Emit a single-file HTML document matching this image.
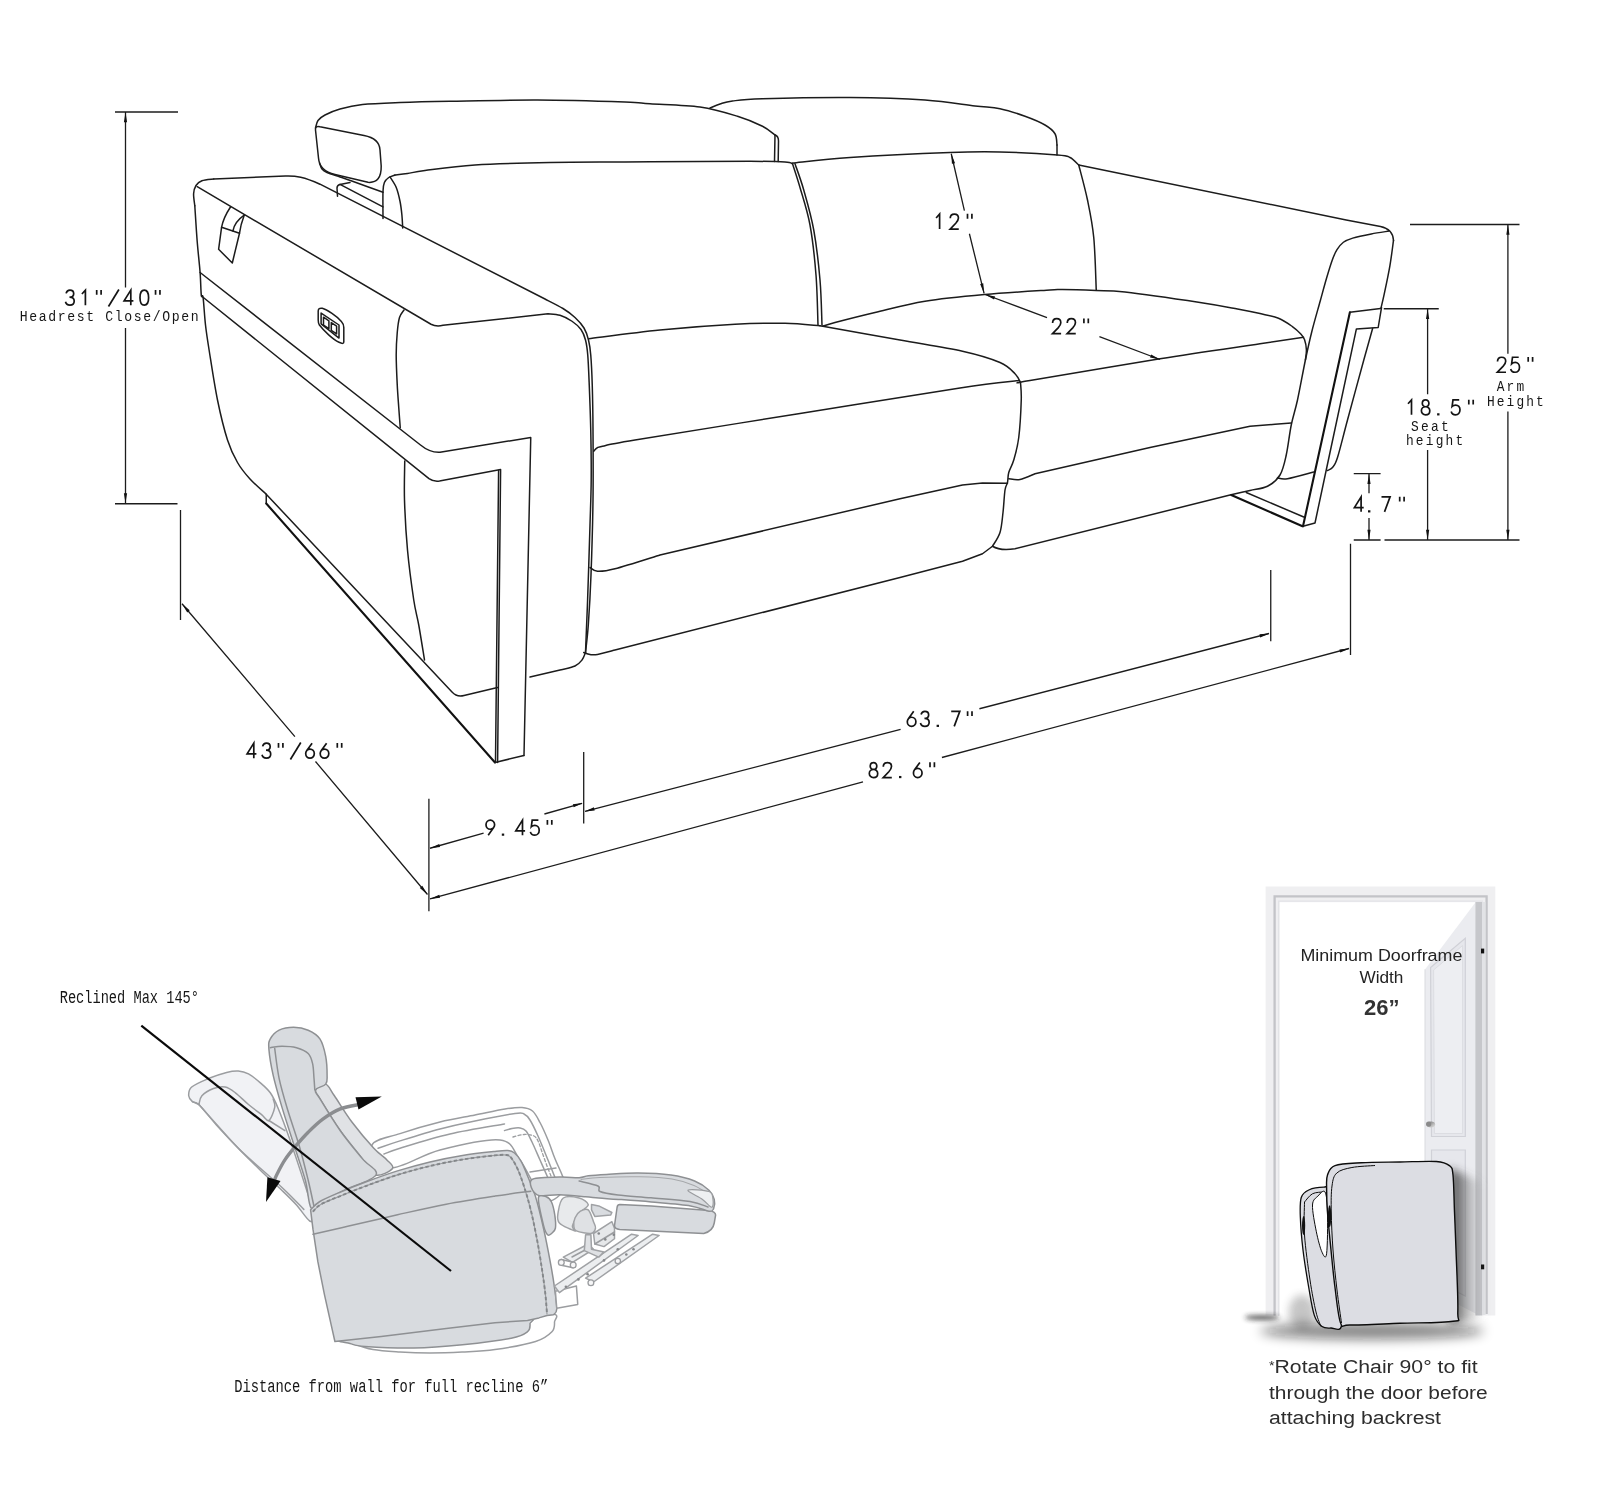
<!DOCTYPE html>
<html><head><meta charset="utf-8"><title>Sofa dimensions</title>
<style>
html,body{margin:0;padding:0;background:#fff;}
body{width:1600px;height:1510px;overflow:hidden;font-family:"Liberation Sans",sans-serif;}
svg{display:block;}
.l{fill:none;stroke:#1c1c1c;stroke-width:1.5;stroke-linecap:round;stroke-linejoin:round;}
.b{fill:none;stroke:#111;stroke-width:2.1;stroke-linecap:round;stroke-linejoin:round;}
.d{fill:none;stroke:#1c1c1c;stroke-width:1.3;stroke-linecap:butt;}
.a{fill:#111;stroke:none;}
.k path{fill:none;stroke:#141414;stroke-width:1.7;stroke-linecap:butt;stroke-linejoin:miter;}
.k path.kd{fill:#141414;stroke:none;}
.m{font-family:"Liberation Mono",monospace;font-size:13.4px;fill:#161616;text-anchor:middle;}
.g{fill:#d8dbdf;stroke:#8e9093;stroke-width:1.5;stroke-linejoin:round;stroke-linecap:round;}
.go{fill:none;stroke:#8e9093;stroke-width:1.5;stroke-linejoin:round;stroke-linecap:round;}
.w{fill:#fff;stroke:#9b9da0;stroke-width:1.5;stroke-linejoin:round;stroke-linecap:round;}
.wo{fill:none;stroke:#9b9da0;stroke-width:1.5;stroke-linejoin:round;stroke-linecap:round;}
</style></head><body>
<svg width="1600" height="1510" viewBox="0 0 1600 1510">
<rect x="0" y="0" width="1600" height="1510" fill="#fff"/>
<g id="sofa">
<path class="l" d="M213.8,178.9 C211.82,179.2 204.87,179.6 201.9,180.7 C198.93,181.8 197.38,183.32 196,185.5 C194.62,187.68 193.8,190.42 193.6,193.8 C193.4,197.18 194.6,203.8 194.8,205.8"/>
<path class="l" d="M194.8,205.8 C195.2,211.75 196.32,230.38 197.2,241.5 C198.08,252.62 199.42,263.55 200.1,272.5 C200.78,281.45 200.8,291.02 201.3,295.2 C201.8,299.38 202.4,292.63 203.1,297.6 C203.8,302.57 204.5,316.27 205.5,325 C206.5,333.73 207.1,337.5 209.1,350 C211.1,362.5 214.43,385 217.5,400 C220.57,415 224.17,429.58 227.5,440 C230.83,450.42 233.75,456 237.5,462.5 C241.25,469 245.25,473.75 250,479 C254.75,484.25 263.33,491.5 266,494"/>
<path class="l" d="M266,494 L452,692 Q457,697.5 464,695.5 L497.5,687.5"/>
<path class="l" d="M213.8,178.9 L285.4,176 C296,175.6 304,177 320,184.2 L545,299  C548,300.58 558,305.42 563,308.5 C568,311.58 571.5,314.25 575,317.5 C578.5,320.75 581.75,324.25 584,328 C586.25,331.75 587.38,335.5 588.5,340 C589.62,344.5 590.12,347.5 590.75,355 C591.38,362.5 591.88,372.5 592.25,385 C592.62,397.5 592.88,410.83 593,430 C593.12,449.17 593.33,475.83 593,500 C592.67,524.17 591.78,554.17 591,575 C590.22,595.83 589.22,612.08 588.3,625 C587.38,637.92 585.97,647.92 585.5,652.5"/>
<path class="l" d="M197.2,186.7 L431,324.25 Q436.25,327 443,325.3 L548,313.75  C550,314 556,314 560,315.25 C564,316.5 568.5,318.88 572,321.25 C575.5,323.62 578.75,326.38 581,329.5 C583.25,332.62 584.38,335.75 585.5,340 C586.62,344.25 587.12,347.5 587.75,355 C588.38,362.5 588.75,372.5 589.25,385 C589.75,397.5 590.42,414.17 590.75,430 C591.08,445.83 591.33,464.17 591.2,480 C591.08,495.83 590.6,505 590,525 C589.4,545 588.35,578.75 587.6,600 C586.85,621.25 585.85,643.75 585.5,652.5"/>
<path class="l" d="M585.5,652.5 C584.92,653.75 583.75,657.75 582,660 C580.25,662.25 578.67,664.33 575,666 C571.33,667.67 567.5,668.17 560,670 C552.5,671.83 535,675.83 530,677"/>
<path class="l" d="M404,310 C403.25,311.25 400.62,313.75 399.5,317.5 C398.38,321.25 397.8,326.25 397.25,332.5 C396.7,338.75 396.2,346.25 396.2,355 C396.2,363.75 396.82,376.25 397.25,385 C397.68,393.75 398.25,400.38 398.75,407.5 C399.25,414.62 400,424.38 400.25,427.75"/>
<path class="l" d="M404.75,461 C404.71,467.5 404.04,485.17 404.5,500 C404.96,514.83 405.96,533.33 407.5,550 C409.04,566.67 411.88,587.5 413.75,600 C415.62,612.5 416.96,615 418.75,625 C420.54,635 423.54,654.17 424.5,660"/>
<path class="l" d="M200.1,272.5 L420.5,445 Q430,452.8 440,452.2 L530.75,437.5 L524,755.5"/>
<path class="l" d="M201.5,296 L429,478.7 Q433.5,482 439.5,481.1 L500.6,469.6 L497.6,762.5"/>
<path class="l" d="M498.6,470.6 L495.5,762"/>
<path class="l" d="M266.25,495 L266.25,503.5"/>
<path class="b" d="M266.25,503.5 L495,762.5"/>
<path class="l" d="M495,762.5 L523.9,755.5"/>
<path class="l" d="M230.5,207 C226.5,213 223,220 221.6,227.2 L218.6,249.3 L232.3,263 L239.5,233.2 C240.3,227 242,221 244.2,215.2"/>
<path class="l" d="M221.6,227.2 L239.5,233.2"/>
<path class="l" d="M244.2,215.2 C238,219.5 234,225 232.9,231"/>
<path class="l" d="M318.2,311 Q318.2,307.6 322.3,308.3 C327,309.5 337,316.5 341.4,321.4 Q343.8,324 343.8,327.5 L343.8,342 Q343.8,344.6 339,342.3 C333,339.5 324,331 319.4,325 Q318.2,323 318.2,320 Z"/>
<path class="l" d="M321.1,313.1 L339,325 L339,338.1 L321.1,323.8 Z"/>
<path class="l" d="M323.5,317.2 L328.9,320.8 L328.9,328.6 L323.5,325 Z"/>
<path class="l" d="M331.3,322.6 L336.6,326.2 L336.6,333.9 L331.3,330.3 Z"/>
<path class="l" d="M315.5,130 Q315,125.5 320,126.8 L364,135.5 Q379.5,138.5 380,150 L381.2,166 Q381.5,183.5 368,182.3 L335,174.5 Q319.5,171 318.5,158 Z"/>
<path class="l" d="M315.5,128 C315.92,126.75 316.42,122.67 318,120.5 C319.58,118.33 321.33,116.92 325,115 C328.67,113.08 333.75,110.75 340,109 C346.25,107.25 352.5,105.58 362.5,104.5 C372.5,103.42 385.42,103.04 400,102.5 C414.58,101.96 427.08,101.67 450,101.25 C472.92,100.83 508.33,99.88 537.5,100 C566.67,100.12 606.25,101.38 625,102 C643.75,102.62 637.5,102.92 650,103.75 C662.5,104.58 685.42,104.92 700,107 C714.58,109.08 727.08,113.04 737.5,116.25 C747.92,119.46 756.25,123.12 762.5,126.25 C768.75,129.38 772.92,133.54 775,135"/>
<path class="l" d="M775,135 L774.5,161.5"/>
<path class="l" d="M775,135 Q778.5,136 778.5,141 L778.2,161.5"/>
<path class="l" d="M319.5,163 C319.92,164 320.75,167.42 322,169 C323.25,170.58 324,171.17 327,172.5 C330,173.83 335.75,175.54 340,177 C344.25,178.46 345.33,178.71 352.5,181.25 C359.67,183.79 377.92,190.42 383,192.25"/>
<path class="l" d="M337.5,196.3 L337,188 Q337,185 340,184.4 L350,182.6"/>
<path class="l" d="M340,184.4 L383,206.9"/>
<path class="l" d="M383,218.5 C383,213.96 382.77,197.25 383,191.25 C383.23,185.25 383.44,184.79 384.4,182.5 C385.36,180.21 386.98,178.75 388.75,177.5 C390.52,176.25 393.96,175.42 395,175"/>
<path class="l" d="M395,175 C397.08,174.75 402.5,174.25 407.5,173.5 C412.5,172.75 413.75,171.92 425,170.5 C436.25,169.08 454.17,166.33 475,165 C495.83,163.67 525,163 550,162.5 C575,162 600,162.17 625,162 C650,161.83 679.17,161.62 700,161.5 C720.83,161.38 735.83,161.17 750,161.25 C764.17,161.33 777.92,161.58 785,162 C792.08,162.42 791.25,163.46 792.5,163.75"/>
<path class="l" d="M792.5,163.75 C793.75,167.71 797.08,177.29 800,187.5 C802.92,197.71 807.33,210.42 810,225 C812.67,239.58 814.67,258.33 816,275 C817.33,291.67 817.67,316.67 818,325"/>
<path class="l" d="M795,163.75 C796.46,168.12 800.62,178.96 803.75,190 C806.88,201.04 811.04,215 813.75,230 C816.46,245 818.62,264.17 820,280 C821.38,295.83 821.67,317.5 822,325"/>
<path class="l" d="M390,176.9 C391.04,178.67 394.58,183.44 396.25,187.5 C397.92,191.56 399.06,196.67 400,201.25 C400.94,205.83 401.45,210.54 401.9,215 C402.35,219.46 402.57,225.83 402.7,228"/>
<path class="l" d="M792.5,163 C802.08,162.08 823.75,159.25 850,157.5 C876.25,155.75 925,153.42 950,152.5 C975,151.58 982.08,151.58 1000,152 C1017.92,152.42 1045.83,154.08 1057.5,155 C1069.17,155.92 1066.46,155.83 1070,157.5 C1073.54,159.17 1077.29,163.75 1078.75,165"/>
<path class="l" d="M1078.75,165 C1080.21,170.83 1085,187.92 1087.5,200 C1090,212.08 1092.29,222.5 1093.75,237.5 C1095.21,252.5 1095.83,281.25 1096.25,290"/>
<path class="l" d="M710,108 C711.67,107.33 716.25,105.17 720,104 C723.75,102.83 725.42,101.88 732.5,101 C739.58,100.12 742.92,99.33 762.5,98.75 C782.08,98.17 822.92,97.29 850,97.5 C877.08,97.71 904.17,98.58 925,100 C945.83,101.42 962.5,104.54 975,106 C987.5,107.46 991.67,107.04 1000,108.75 C1008.33,110.46 1017.5,113.54 1025,116.25 C1032.5,118.96 1040,122.08 1045,125 C1050,127.92 1053,130.42 1055,133.75 C1057,137.08 1056.67,143.12 1057,145"/>
<path class="l" d="M1057,145 L1057,155"/>
<path class="l" d="M588.75,338.75 C600.62,337.29 635.62,332.42 660,330 C684.38,327.58 714.17,325.38 735,324.25 C755.83,323.12 770.83,323 785,323.25 C799.17,323.5 814.17,325.33 820,325.75"/>
<path class="l" d="M820,325.75 C833.33,328.12 876.25,335.75 900,340 C923.75,344.25 945.83,347.5 962.5,351.25 C979.17,355 991.25,358.75 1000,362.5 C1008.75,366.25 1011.58,370.42 1015,373.75 C1018.42,377.08 1019.58,381.04 1020.5,382.5"/>
<path class="l" d="M593.75,451.25 C594.29,450.71 595.54,448.83 597,448 C598.46,447.17 596.17,447.58 602.5,446.25 C608.83,444.92 602.08,445.46 635,440 C667.92,434.54 745.83,422.17 800,413.5 C854.17,404.83 923.54,393.5 960,388 C996.46,382.5 1008.96,381.75 1018.75,380.5"/>
<path class="l" d="M1020.5,382.5 C1020.62,385.42 1021.54,390.83 1021.25,400 C1020.96,409.17 1020,427.5 1018.75,437.5 C1017.5,447.5 1015.42,454.17 1013.75,460 C1012.08,465.83 1009.79,468.75 1008.75,472.5 C1007.71,476.25 1008.12,479.58 1007.5,482.5 C1006.88,485.42 1005.75,485 1005,490 C1004.25,495 1003.83,505.42 1003,512.5 C1002.17,519.58 1001.75,526.88 1000,532.5 C998.25,538.12 993.75,543.96 992.5,546.25"/>
<path class="l" d="M590,567.5 C591.25,568.12 593.33,571.04 597.5,571.25 C601.67,571.46 604.58,571.46 615,568.75 C625.42,566.04 652.5,557.29 660,555 L900,498.75 L962.5,485 L982.5,483 L1007.5,483.25"/>
<path class="l" d="M583.75,652.5 C584.79,652.83 587.71,654.17 590,654.5 C592.29,654.83 593.33,655.25 597.5,654.5 C601.67,653.75 612.08,650.75 615,650 L900,577.5 L962.5,561.25 L982.5,553.75 L992.5,546.25"/>
<path class="l" d="M822.5,326.25 C824.58,325.62 826.25,324.79 835,322.5 C843.75,320.21 860,316.04 875,312.5 C890,308.96 906.67,304.25 925,301.25 C943.33,298.25 964.17,296.38 985,294.5 C1005.83,292.62 1037.08,290.83 1050,290 C1062.92,289.17 1054.83,289.42 1062.5,289.5 C1070.17,289.58 1085.58,290.08 1096,290.5 C1106.42,290.92 1107.67,290 1125,292 C1142.33,294 1181.25,299.67 1200,302.5 C1218.75,305.33 1227.5,307.15 1237.5,309 C1247.5,310.85 1253.17,312.05 1260,313.6 C1266.83,315.15 1273.1,316.13 1278.5,318.3 C1283.9,320.47 1288.68,323.98 1292.4,326.6 C1296.12,329.22 1298.78,331.83 1300.8,334 C1302.82,336.17 1303.57,336.97 1304.5,339.6 C1305.43,342.23 1306.25,346.4 1306.4,349.8 C1306.55,353.2 1305.57,358.3 1305.4,360"/>
<path class="l" d="M1020.5,382.5 C1022.08,382.17 1006.75,384.46 1030,380.5 C1053.25,376.54 1121.67,364.87 1160,358.75 C1198.33,352.63 1236.07,347.38 1260,343.8 C1283.93,340.23 1296.33,338.38 1303.6,337.3"/>
<path class="l" d="M1388.9,231.1 C1385.97,231.57 1377.33,232.73 1371.3,233.9 C1365.27,235.07 1357.35,236.71 1352.7,238.1 C1348.05,239.49 1346.02,240.32 1343.4,242.25 C1340.78,244.18 1338.85,246.76 1337,249.7 C1335.15,252.64 1334.01,255.27 1332.3,259.9 C1330.59,264.53 1328.75,270.7 1326.75,277.5 C1324.75,284.3 1322.77,291.74 1320.3,300.7 C1317.83,309.66 1314.38,321.37 1311.9,331.25 C1309.42,341.13 1307.8,348.54 1305.4,360 C1303,371.46 1299.86,389.17 1297.5,400 C1295.14,410.83 1293.12,415.83 1291.25,425 C1289.38,434.17 1288.12,446.67 1286.25,455 C1284.38,463.33 1283.12,469.79 1280,475 C1276.88,480.21 1272.5,483.67 1267.5,486.25 C1262.5,488.83 1256.25,489.04 1250,490.5 C1243.75,491.96 1233.33,494.25 1230,495 L1015,548.75 Q1000,551 992.5,546.25"/>
<path class="l" d="M1008.75,478.75 C1010.62,478.88 1015.62,480.33 1020,479.5 C1024.38,478.67 1032.5,474.71 1035,473.75 L1150,447.5 L1250,426.25 L1275,424.25 L1291.25,423"/>
<path class="l" d="M1078.75,165 L1346.2,220 L1380.5,226.5 C1388,228 1393,232 1393.5,240.4"/>
<path class="l" d="M1393.5,240.4 C1392.88,244.73 1391.35,257.43 1389.8,266.4 C1388.25,275.37 1385.67,287.27 1384.2,294.2 C1382.73,301.13 1381.53,305.7 1381,308"/>
<path class="l" d="M1372.6,328.5 C1371.13,333.75 1367.98,344.75 1363.8,360 C1359.62,375.25 1351.88,403.75 1347.5,420 C1343.12,436.25 1340,449.58 1337.5,457.5 C1335,465.42 1334.17,465.33 1332.5,467.5 C1330.83,469.67 1328.33,470 1327.5,470.5"/>
<path class="b" d="M1349.9,312.25 L1303,526.25"/>
<path class="l" d="M1349.9,312.25 L1380.5,308.5"/>
<path class="l" d="M1381.5,307.6 L1378.2,327.5 L1356.4,328.9 L1326.25,470 L1315,523 L1303,526.25"/>
<path class="l" d="M1277.5,478 C1279.17,478.12 1281.46,479.75 1287.5,478.75 C1293.54,477.75 1309.38,473.12 1313.75,472"/>
<path class="b" d="M1231.25,495 L1302.5,526.25"/>
<path class="l" d="M1246.25,492.5 L1303.75,517"/>
</g>
<g id="dims">
<path class="d" d="M115,112 L178,112"/>
<path class="d" d="M125.5,112 L125.5,287.5 M125.5,328 L125.5,503.5"/>
<path class="d" d="M115,503.75 L177.5,503.75"/>
<path class="a" d="M125.5,112.3 L127.1,122.3 L123.9,122.3 Z"/>
<path class="a" d="M125.5,503.3 L123.9,493.3 L127.1,493.3 Z"/>
<path class="d" d="M180.5,510 L180.5,620"/>
<path class="d" d="M182,603.75 L294.9,736.6 M315.5,761.5 L427.5,894.5"/>
<path class="a" d="M182,603.75 L189.69,610.33 L187.26,612.41 Z"/>
<path class="a" d="M427.5,894.5 L419.83,887.88 L422.28,885.82 Z"/>
<path class="d" d="M428.9,798.75 L428.9,911.25"/>
<path class="d" d="M583.7,752 L583.7,823.6"/>
<path class="d" d="M430,848.25 L483.6,833.1 M544.4,814 L582,803.4"/>
<path class="a" d="M430,848.25 L439.19,843.99 L440.06,847.07 Z"/>
<path class="a" d="M582.9,803.1 L573.71,807.36 L572.84,804.28 Z"/>
<path class="d" d="M585,811.3 L900.6,729.4 M979.4,708.75 L1269,633.5"/>
<path class="a" d="M584.6,811.4 L593.88,807.34 L594.68,810.44 Z"/>
<path class="a" d="M1269.5,633.4 L1260.22,637.46 L1259.42,634.37 Z"/>
<path class="d" d="M430,898.9 L863,781.9 M941.9,757.5 L1349,648.5"/>
<path class="a" d="M430,898.9 L439.24,894.75 L440.07,897.84 Z"/>
<path class="a" d="M1349.5,648.4 L1340.25,652.53 L1339.43,649.44 Z"/>
<path class="d" d="M1270.75,570 L1270.75,641.25"/>
<path class="d" d="M1350.5,543.75 L1350.5,655"/>
<path class="d" d="M1410,224.5 L1519.5,224.5"/>
<path class="d" d="M1507.9,224.5 L1507.9,353.75 M1507.9,411.5 L1507.9,540"/>
<path class="d" d="M1384.5,540 L1519.5,540"/>
<path class="a" d="M1507.9,224.8 L1509.5,234.8 L1506.3,234.8 Z"/>
<path class="a" d="M1507.9,539.7 L1506.3,529.7 L1509.5,529.7 Z"/>
<path class="d" d="M1383.75,308.75 L1438.75,308.75"/>
<path class="d" d="M1427.6,308.75 L1427.6,394.3 M1427.6,450 L1427.6,540"/>
<path class="a" d="M1427.6,309 L1429.2,319 L1426,319 Z"/>
<path class="a" d="M1427.6,539.7 L1426,529.7 L1429.2,529.7 Z"/>
<path class="d" d="M1353.75,473.7 L1380.6,473.7 M1353.75,540 L1380.6,540"/>
<path class="d" d="M1369,473.7 L1369,493.3 M1369,518 L1369,540"/>
<path class="a" d="M1369,474 L1370.6,484 L1367.4,484 Z"/>
<path class="a" d="M1369,539.7 L1367.4,529.7 L1370.6,529.7 Z"/>
<path class="d" d="M951.25,153.75 L964.4,210.7 M969.4,233.75 L984.1,293.4"/>
<path class="a" d="M951.25,153.75 L955.06,163.13 L951.94,163.85 Z"/>
<path class="a" d="M984.1,293.4 L980.15,284.07 L983.26,283.31 Z"/>
<path class="d" d="M985.2,294.5 L1047,317.6 M1099.4,336.7 L1160,359.5"/>
<path class="a" d="M985.2,294.5 L995.13,296.5 L994.01,299.5 Z"/>
<path class="a" d="M1160,359.5 L1150.08,357.48 L1151.2,354.48 Z"/>
<g class="k"><title>31&quot;/40&quot;</title><path transform="translate(65.3,290.15)" d="M0.8,3.2 C1.3,1.2 2.7,0 4.6,0 C6.9,0 8.4,1.5 8.4,3.6 C8.4,5.8 6.8,7 4.2,7 C7.2,7 8.9,8.5 8.9,10.9 C8.9,13.4 7.1,15 4.6,15 C2.3,15 0.7,13.7 0.2,11.6"/><path transform="translate(80.8,290.15)" d="M1.1,3.9 L4.6,0 L4.6,15"/><path transform="translate(94.4,290.15)" d="M2.3,-0.2 L2.3,4.6 M6.7,-0.2 L6.7,4.6"/><path transform="translate(109.2,290.15)" d="M9.7,-0.6 L-0.7,16.3"/><path transform="translate(124.1,290.15)" d="M6.7,15 L6.7,0 L0,10.7 L9.3,10.7"/><path transform="translate(139.8,290.15)" d="M4.5,0 C1.6,0 0.2,3.2 0.2,7.5 C0.2,11.8 1.6,15 4.5,15 C7.4,15 8.8,11.8 8.8,7.5 C8.8,3.2 7.4,0 4.5,0Z"/><path transform="translate(153.25,290.15)" d="M2.3,-0.2 L2.3,4.6 M6.7,-0.2 L6.7,4.6"/></g>
<g class="k"><title>43&quot;/66&quot;</title><path transform="translate(247.1,743.15)" d="M6.7,15 L6.7,0 L0,10.7 L9.3,10.7"/><path transform="translate(261.8,743.15)" d="M0.8,3.2 C1.3,1.2 2.7,0 4.6,0 C6.9,0 8.4,1.5 8.4,3.6 C8.4,5.8 6.8,7 4.2,7 C7.2,7 8.9,8.5 8.9,10.9 C8.9,13.4 7.1,15 4.6,15 C2.3,15 0.7,13.7 0.2,11.6"/><path transform="translate(276.2,743.15)" d="M2.3,-0.2 L2.3,4.6 M6.7,-0.2 L6.7,4.6"/><path transform="translate(291.1,743.15)" d="M9.7,-0.6 L-0.7,16.3"/><path transform="translate(305.5,743.15)" d="M6.6,0 L1.3,7.3 C0.6,8.3 0.2,9.3 0.2,10.4 C0.2,13 2,15 4.5,15 C7,15 8.8,13 8.8,10.4 C8.8,7.8 7,5.9 4.5,5.9 C3.4,5.9 2.5,6.2 1.7,6.9"/><path transform="translate(320,743.15)" d="M6.6,0 L1.3,7.3 C0.6,8.3 0.2,9.3 0.2,10.4 C0.2,13 2,15 4.5,15 C7,15 8.8,13 8.8,10.4 C8.8,7.8 7,5.9 4.5,5.9 C3.4,5.9 2.5,6.2 1.7,6.9"/><path transform="translate(335,743.15)" d="M2.3,-0.2 L2.3,4.6 M6.7,-0.2 L6.7,4.6"/></g>
<g class="k"><title>9.45&quot;</title><path transform="translate(485.8,820.15)" d="M2.4,15 L7.7,7.7 C8.4,6.7 8.8,5.7 8.8,4.6 C8.8,2 7,0 4.5,0 C2,0 0.2,2 0.2,4.6 C0.2,7.2 2,9.1 4.5,9.1 C5.6,9.1 6.5,8.8 7.3,8.1"/><path class="kd" transform="translate(498.5,820.15)" d="M3.3,13.4 L5.7,13.4 L5.7,15.6 L3.3,15.6 Z"/><path transform="translate(515.8,820.15)" d="M6.7,15 L6.7,0 L0,10.7 L9.3,10.7"/><path transform="translate(530.2,820.15)" d="M8.2,0 L2,0 L1.1,6.6 C2,5.7 3.3,5.2 4.7,5.2 C7.2,5.2 9,7.2 9,10 C9,12.9 7.2,15 4.6,15 C2.3,15 0.7,13.7 0.2,11.7"/><path transform="translate(545.1,820.15)" d="M2.3,-0.2 L2.3,4.6 M6.7,-0.2 L6.7,4.6"/></g>
<g class="k"><title>63.7&quot;</title><path transform="translate(907.1,711.35)" d="M6.6,0 L1.3,7.3 C0.6,8.3 0.2,9.3 0.2,10.4 C0.2,13 2,15 4.5,15 C7,15 8.8,13 8.8,10.4 C8.8,7.8 7,5.9 4.5,5.9 C3.4,5.9 2.5,6.2 1.7,6.9"/><path transform="translate(920.25,711.35)" d="M0.8,3.2 C1.3,1.2 2.7,0 4.6,0 C6.9,0 8.4,1.5 8.4,3.6 C8.4,5.8 6.8,7 4.2,7 C7.2,7 8.9,8.5 8.9,10.9 C8.9,13.4 7.1,15 4.6,15 C2.3,15 0.7,13.7 0.2,11.6"/><path class="kd" transform="translate(933.3,711.35)" d="M3.3,13.4 L5.7,13.4 L5.7,15.6 L3.3,15.6 Z"/><path transform="translate(950.9,711.35)" d="M0.3,0 L8.9,0 L3.3,15"/><path transform="translate(965.3,711.35)" d="M2.3,-0.2 L2.3,4.6 M6.7,-0.2 L6.7,4.6"/></g>
<g class="k"><title>82.6&quot;</title><path transform="translate(869,762.55)" d="M4.5,6.9 C2.5,6.9 1.2,5.4 1.2,3.5 C1.2,1.5 2.5,0 4.5,0 C6.5,0 7.8,1.5 7.8,3.5 C7.8,5.4 6.5,6.9 4.5,6.9 C6.9,6.9 8.7,8.6 8.7,10.9 C8.7,13.3 6.9,15 4.5,15 C2.1,15 0.3,13.3 0.3,10.9 C0.3,8.6 2.1,6.9 4.5,6.9Z"/><path transform="translate(882.8,762.55)" d="M0.5,4.3 C0.5,1.6 2.2,0 4.6,0 C7,0 8.7,1.6 8.7,4 C8.7,6 7.6,7.4 6,9.2 L0.4,15 L9,15"/><path class="kd" transform="translate(895.7,762.55)" d="M3.3,13.4 L5.7,13.4 L5.7,15.6 L3.3,15.6 Z"/><path transform="translate(913.25,762.55)" d="M6.6,0 L1.3,7.3 C0.6,8.3 0.2,9.3 0.2,10.4 C0.2,13 2,15 4.5,15 C7,15 8.8,13 8.8,10.4 C8.8,7.8 7,5.9 4.5,5.9 C3.4,5.9 2.5,6.2 1.7,6.9"/><path transform="translate(927.7,762.55)" d="M2.3,-0.2 L2.3,4.6 M6.7,-0.2 L6.7,4.6"/></g>
<g class="k"><title>12&quot;</title><path transform="translate(935,214.05)" d="M1.1,3.9 L4.6,0 L4.6,15"/><path transform="translate(949.75,214.05)" d="M0.5,4.3 C0.5,1.6 2.2,0 4.6,0 C7,0 8.7,1.6 8.7,4 C8.7,6 7.6,7.4 6,9.2 L0.4,15 L9,15"/><path transform="translate(965.2,214.05)" d="M2.3,-0.2 L2.3,4.6 M6.7,-0.2 L6.7,4.6"/></g>
<g class="k"><title>22&quot;</title><path transform="translate(1052.1,318.65)" d="M0.5,4.3 C0.5,1.6 2.2,0 4.6,0 C7,0 8.7,1.6 8.7,4 C8.7,6 7.6,7.4 6,9.2 L0.4,15 L9,15"/><path transform="translate(1066.75,318.65)" d="M0.5,4.3 C0.5,1.6 2.2,0 4.6,0 C7,0 8.7,1.6 8.7,4 C8.7,6 7.6,7.4 6,9.2 L0.4,15 L9,15"/><path transform="translate(1081.6,318.65)" d="M2.3,-0.2 L2.3,4.6 M6.7,-0.2 L6.7,4.6"/></g>
<g class="k"><title>25&quot;</title><path transform="translate(1497,357.25)" d="M0.5,4.3 C0.5,1.6 2.2,0 4.6,0 C7,0 8.7,1.6 8.7,4 C8.7,6 7.6,7.4 6,9.2 L0.4,15 L9,15"/><path transform="translate(1510.5,357.25)" d="M8.2,0 L2,0 L1.1,6.6 C2,5.7 3.3,5.2 4.7,5.2 C7.2,5.2 9,7.2 9,10 C9,12.9 7.2,15 4.6,15 C2.3,15 0.7,13.7 0.2,11.7"/><path transform="translate(1525.9,357.25)" d="M2.3,-0.2 L2.3,4.6 M6.7,-0.2 L6.7,4.6"/></g>
<g class="k"><title>18.5&quot;</title><path transform="translate(1406.9,399.85)" d="M1.1,3.9 L4.6,0 L4.6,15"/><path transform="translate(1421.1,399.85)" d="M4.5,6.9 C2.5,6.9 1.2,5.4 1.2,3.5 C1.2,1.5 2.5,0 4.5,0 C6.5,0 7.8,1.5 7.8,3.5 C7.8,5.4 6.5,6.9 4.5,6.9 C6.9,6.9 8.7,8.6 8.7,10.9 C8.7,13.3 6.9,15 4.5,15 C2.1,15 0.3,13.3 0.3,10.9 C0.3,8.6 2.1,6.9 4.5,6.9Z"/><path class="kd" transform="translate(1433.8,399.85)" d="M3.3,13.4 L5.7,13.4 L5.7,15.6 L3.3,15.6 Z"/><path transform="translate(1451,399.85)" d="M8.2,0 L2,0 L1.1,6.6 C2,5.7 3.3,5.2 4.7,5.2 C7.2,5.2 9,7.2 9,10 C9,12.9 7.2,15 4.6,15 C2.3,15 0.7,13.7 0.2,11.7"/><path transform="translate(1466.5,399.85)" d="M2.3,-0.2 L2.3,4.6 M6.7,-0.2 L6.7,4.6"/></g>
<g class="k"><title>4.7&quot;</title><path transform="translate(1354.4,496.85)" d="M6.7,15 L6.7,0 L0,10.7 L9.3,10.7"/><path class="kd" transform="translate(1364.7,496.85)" d="M3.3,13.4 L5.7,13.4 L5.7,15.6 L3.3,15.6 Z"/><path transform="translate(1381.2,496.85)" d="M0.3,0 L8.9,0 L3.3,15"/><path transform="translate(1397.4,496.85)" d="M2.3,-0.2 L2.3,4.6 M6.7,-0.2 L6.7,4.6"/></g>
<g opacity=".999">
<text class="m" style="font-size:15.3px" transform="translate(23.75,320.6) scale(0.86,1)" x="0 11.05 22.09 33.14 44.19 55.23 66.28 77.33 88.37 99.42 110.47 121.51 132.56 143.6 154.65 165.7 176.74 187.79 198.84" y="0">Headrest Close/Open</text>
<text class="m" style="font-size:14.6px" transform="translate(1500.5,390.9) scale(0.88,1)" x="0 11.25 22.5" y="0">Arm</text>
<text class="m" style="font-size:14.6px" transform="translate(1490.9,406) scale(0.88,1)" x="0 11.14 22.27 33.41 44.55 55.68" y="0">Height</text>
<text class="m" style="font-size:14.6px" transform="translate(1414.9,431.4) scale(0.88,1)" x="0 11.33 22.66 33.99" y="0">Seat</text>
<text class="m" style="font-size:14.6px" transform="translate(1409.8,445.2) scale(0.88,1)" x="0 11.25 22.5 33.75 45 56.25" y="0">height</text>
</g>
</g>
<g id="recliner">
<path class="w" d="M346,1339 C338,1341.17 347.48,1341.23 352,1343 C356.52,1344.77 365.1,1348.1 373.1,1349.6 C381.1,1351.1 390.52,1351.45 400,1352 C409.48,1352.55 419.67,1352.9 430,1352.9 C440.33,1352.9 451.17,1352.55 462,1352 C472.83,1351.45 482.73,1351.35 495,1349.6 C507.27,1347.85 526.12,1344.47 535.6,1341.5 C545.08,1338.53 548.75,1335 551.9,1331.75 C555.05,1328.5 554.48,1324.96 554.5,1322 C554.52,1319.04 561.08,1314.67 552,1314 C542.92,1313.33 525.33,1315.33 500,1318 C474.67,1320.67 425.67,1326.5 400,1330 C374.33,1333.5 354,1336.83 346,1339Z"/>
<path class="g" d="M338,1339 C333,1341.25 345.5,1342.27 350,1343.5 C354.5,1344.73 354.38,1345.65 365,1346.4 C375.62,1347.15 397.5,1348.28 413.75,1348 C430,1347.72 446.25,1346.38 462.5,1344.75 C478.75,1343.12 500.42,1340.42 511.25,1338.25 C522.08,1336.08 524.38,1334.19 527.5,1331.75 C530.62,1329.31 530.08,1325.89 530,1323.6 C529.92,1321.31 540.33,1317.93 527,1318 C513.67,1318.07 474.5,1322 450,1324 C425.5,1326 398.67,1327.5 380,1330 C361.33,1332.5 343,1336.75 338,1339Z"/>
<path class="w" d="M372,1145 C373.67,1139.27 388.67,1137.43 400,1133.6 C411.33,1129.77 427.5,1125.1 440,1122 C452.5,1118.9 464.17,1117.17 475,1115 C485.83,1112.83 497.17,1110.25 505,1109 C512.83,1107.75 517.42,1107.17 522,1107.5 C526.58,1107.83 529.5,1108.5 532.5,1111 C535.5,1113.5 537.42,1117.67 540,1122.5 C542.58,1127.33 545.5,1133.96 548,1140 C550.5,1146.04 552.58,1152.75 555,1158.75 C557.42,1164.75 560.67,1171.12 562.5,1176 C564.33,1180.88 568.92,1184 566,1188 C563.08,1192 552.67,1204.67 545,1200 C537.33,1195.33 527.5,1170 520,1160 C512.5,1150 513.33,1141.67 500,1140 C486.67,1138.33 458.33,1145.33 440,1150 C421.67,1154.67 401.33,1168.83 390,1168 C378.67,1167.17 370.33,1150.73 372,1145Z"/>
<path class="wo" d="M378.1,1148.2 C381.75,1146.98 389.68,1144.1 400,1140.9 C410.32,1137.7 427.5,1132.32 440,1129 C452.5,1125.68 462.5,1123.58 475,1121 C487.5,1118.42 506.83,1114.67 515,1113.5 C523.17,1112.33 521.5,1112.92 524,1114 C526.5,1115.08 527.67,1116.33 530,1120 C532.33,1123.67 535,1129.33 538,1136 C541,1142.67 545,1152.67 548,1160 C551,1167.33 554.67,1176.67 556,1180"/>
<path class="wo" d="M384,1154 C386.67,1153.03 389,1151.53 400,1148.2 C411,1144.87 432.58,1138.03 450,1134 C467.42,1129.97 495.42,1125.67 504.5,1124"/>
<path class="wo" d="M504.5,1130.6 C505.75,1130.25 509.42,1128.93 512,1128.5 C514.58,1128.07 517.67,1127.58 520,1128 C522.33,1128.42 524,1128.67 526,1131 C528,1133.33 529.67,1137.17 532,1142 C534.33,1146.83 537.33,1154 540,1160 C542.67,1166 546.67,1175 548,1178"/>
<path class="wo" d="M513,1137 C514.83,1136.58 520.5,1134.67 524,1134.5 C527.5,1134.33 531.58,1134.75 534,1136 C536.42,1137.25 537.17,1139.33 538.5,1142 C539.83,1144.67 540.58,1148 542,1152 C543.42,1156 545.5,1162 547,1166 C548.5,1170 550.33,1174.33 551,1176" style="stroke-dasharray:3 2.2;stroke-width:1.3"/>
<path class="wo" d="M530,1172 L556,1168"/>
<path class="w" d="M192.4,1101.6 C190.7,1100.15 188.82,1098.23 188.7,1095.8 C188.58,1093.37 188.3,1089.92 191.7,1087 C195.1,1084.08 203.28,1080.73 209.1,1078.3 C214.92,1075.87 221.73,1073.62 226.6,1072.4 C231.47,1071.18 234.65,1070.75 238.3,1071 C241.95,1071.25 244.87,1071.97 248.5,1073.9 C252.13,1075.83 256.47,1079.45 260.1,1082.6 C263.73,1085.75 267.32,1088.57 270.3,1092.8 C273.28,1097.03 274.72,1100.13 278,1108 C281.28,1115.87 285.5,1127.17 290,1140 C294.5,1152.83 301,1172.5 305,1185 C309,1197.5 313.22,1209 314,1215 C314.78,1221 312.62,1222.67 309.7,1221 C306.78,1219.33 301.12,1210.08 296.5,1205 C291.88,1199.92 287.82,1196.08 282,1190.5 C276.18,1184.92 268.88,1178.55 261.6,1171.5 C254.32,1164.45 245.83,1155.97 238.3,1148.2 C230.77,1140.43 222.97,1132.18 216.4,1124.9 C209.83,1117.62 202.9,1108.38 198.9,1104.5 C194.9,1100.62 194.1,1103.05 192.4,1101.6Z" style="fill:#f1f2f5"/>
<path class="wo" d="M198.9,1104.5 C199.4,1103.05 199.47,1098.47 201.9,1095.8 C204.33,1093.13 209.62,1089.97 213.5,1088.5 C217.38,1087.03 221.55,1086.28 225.2,1087 C228.85,1087.72 231.52,1089.88 235.4,1092.8 C239.28,1095.72 244.13,1100.85 248.5,1104.5 C252.87,1108.15 258.2,1112.03 261.6,1114.7 C265,1117.37 266.72,1121.72 268.9,1120.5 C271.08,1119.28 273.98,1110.98 274.7,1107.4 C275.42,1103.82 273.45,1100.4 273.2,1099"/>
<path class="wo" d="M192.4,1101.6 L198.9,1104.5"/>
<path class="wo" d="M198.9,1104.5 C202.08,1108.08 210.95,1118.23 218,1126 C225.05,1133.77 230.53,1140.85 241.2,1151.1 C251.87,1161.35 271.57,1177.78 282,1187.5 C292.43,1197.22 300.17,1205.75 303.8,1209.4"/>
<path class="wo" d="M268.9,1120.5 L284.9,1130.7"/>
<path class="g" d="M315.5,1089.9 C316.47,1087.47 322.55,1083.12 325.7,1084.1 C328.85,1085.08 330.03,1089.48 334.4,1095.8 C338.77,1102.12 345.33,1113.27 351.9,1122 C358.47,1130.73 367.97,1141.88 373.8,1148.2 C379.63,1154.52 383.78,1156.52 386.9,1159.9 C390.02,1163.28 394.45,1165.98 392.5,1168.5 C390.55,1171.02 380.27,1176.68 375.2,1175 C370.13,1173.32 367.92,1165.78 362.1,1158.4 C356.28,1151.02 347.33,1140.65 340.3,1130.7 C333.27,1120.75 324.03,1105.5 319.9,1098.7 C315.77,1091.9 314.53,1092.33 315.5,1089.9Z" style="fill:#e0e2e5"/>
<path class="g" d="M311.1,1208 C308.32,1204.38 308.22,1191 305.3,1180.3 C302.38,1169.6 297.48,1155.95 293.6,1143.8 C289.72,1131.65 285.4,1118.8 282,1107.4 C278.6,1096 275.38,1085.12 273.2,1075.4 C271.02,1065.68 269.38,1055.18 268.9,1049.1 C268.42,1043.02 268.6,1042.05 270.3,1038.9 C272,1035.75 275.22,1032.13 279.1,1030.2 C282.98,1028.27 288.75,1027.3 293.6,1027.3 C298.45,1027.3 303.82,1028.27 308.2,1030.2 C312.58,1032.13 316.98,1034.53 319.9,1038.9 C322.82,1043.27 324.5,1050.32 325.7,1056.4 C326.9,1062.48 327.1,1070.78 327.1,1075.4 C327.1,1080.02 327.63,1081.68 325.7,1084.1 C323.77,1086.52 316.47,1087.47 315.5,1089.9 C314.53,1092.33 315.77,1091.9 319.9,1098.7 C324.03,1105.5 333.27,1120.75 340.3,1130.7 C347.33,1140.65 356.15,1151.02 362.1,1158.4 C368.05,1165.78 378.85,1169.73 376,1175 C373.15,1180.27 354,1185.5 345,1190 C336,1194.5 327.65,1199 322,1202 C316.35,1205 313.88,1211.62 311.1,1208Z"/>
<path class="go" d="M270.3,1047.7 C272.25,1047.45 277.63,1046.2 282,1046.2 C286.37,1046.2 292.13,1046.48 296.5,1047.7 C300.87,1048.92 305.52,1050.83 308.2,1053.5 C310.88,1056.17 311.63,1059.57 312.6,1063.7 C313.57,1067.83 313.63,1073.93 314,1078.3 C314.37,1082.67 314.67,1087.97 314.8,1089.9"/>
<path class="go" d="M274.7,1048.4 C275.43,1053.38 276.92,1067.98 279.1,1078.3 C281.28,1088.62 284.4,1098.9 287.8,1110.3 C291.2,1121.7 296.1,1135.03 299.5,1146.7 C302.9,1158.37 305.78,1170.33 308.2,1180.3 C310.62,1190.27 313.03,1202.13 314,1206.5"/>
<path class="g" d="M310.6,1209.9 C312.08,1208.54 314.5,1204.73 319.5,1201.75 C324.5,1198.77 333.02,1195.25 340.6,1192 C348.18,1188.75 355.52,1185.77 365,1182.25 C374.48,1178.73 386.67,1174.29 397.5,1170.9 C408.33,1167.51 419.17,1164.48 430,1161.9 C440.83,1159.32 451.67,1157.15 462.5,1155.4 C473.33,1153.65 487.42,1152.2 495,1151.4 C502.58,1150.6 504.75,1150.33 508,1150.6 C511.25,1150.87 512.33,1151.25 514.5,1153 C516.67,1154.75 518.83,1157.31 521,1161.1 C523.17,1164.89 525.07,1169.78 527.5,1175.75 C529.93,1181.72 532.89,1187.96 535.6,1196.9 C538.31,1205.84 541.31,1218.57 543.75,1229.4 C546.19,1240.23 548.49,1252.43 550.25,1261.9 C552.01,1271.38 553.22,1278.4 554.3,1286.25 C555.38,1294.1 556.88,1304.26 556.75,1309 C556.62,1313.74 554.04,1313.75 553.5,1314.7 L547,1315.5 L538.9,1317.9 L527.5,1320.4 L495,1322.8 L446.25,1328.5 L381.25,1336.6 L334.9,1341.5 L330.9,1323.6 L324.4,1294.4 L317.9,1261.9 L313,1229.4 Z"/>
<path class="go" d="M313,1211.5 C314.35,1210.28 316.23,1206.91 321.1,1204.2 C325.98,1201.49 334.93,1198.23 342.25,1195.25 C349.57,1192.27 355.79,1189.69 365,1186.3 C374.21,1182.91 386.67,1178.28 397.5,1174.9 C408.33,1171.52 419.17,1168.57 430,1166 C440.83,1163.43 451.67,1161.27 462.5,1159.5 C473.33,1157.73 487.68,1156.15 495,1155.4 C502.32,1154.65 503.69,1154.58 506.4,1155 C509.11,1155.42 509.36,1155.53 511.25,1157.9 C513.14,1160.28 515.58,1164.38 517.75,1169.25 C519.92,1174.12 522.08,1180.32 524.25,1187.1 C526.42,1193.88 528.58,1200.96 530.75,1209.9 C532.92,1218.84 535.36,1230.73 537.25,1240.75 C539.14,1250.77 540.74,1261.06 542.1,1270 C543.46,1278.94 544.58,1287.07 545.4,1294.4 C546.22,1301.73 546.73,1310.73 547,1314" style="stroke:#9a9c9f;stroke-width:1.2"/>
<path class="go" d="M313,1211.5 C314.35,1210.28 316.23,1206.91 321.1,1204.2 C325.98,1201.49 334.93,1198.23 342.25,1195.25 C349.57,1192.27 355.79,1189.69 365,1186.3 C374.21,1182.91 386.67,1178.28 397.5,1174.9 C408.33,1171.52 419.17,1168.57 430,1166 C440.83,1163.43 451.67,1161.27 462.5,1159.5 C473.33,1157.73 487.68,1156.15 495,1155.4 C502.32,1154.65 503.69,1154.58 506.4,1155 C509.11,1155.42 509.36,1155.53 511.25,1157.9 C513.14,1160.28 515.58,1164.38 517.75,1169.25 C519.92,1174.12 522.08,1180.32 524.25,1187.1 C526.42,1193.88 528.58,1200.96 530.75,1209.9 C532.92,1218.84 535.36,1230.73 537.25,1240.75 C539.14,1250.77 540.74,1261.06 542.1,1270 C543.46,1278.94 544.58,1287.07 545.4,1294.4 C546.22,1301.73 546.73,1310.73 547,1314" style="stroke:#84878a;stroke-dasharray:3.4 2.4;stroke-width:1.9;stroke-linecap:butt"/>
<path class="go" d="M313,1234.25 C318.96,1232.89 334.67,1229.35 348.75,1226.1 C362.83,1222.85 381.25,1218.4 397.5,1214.75 C413.75,1211.1 430,1207.31 446.25,1204.2 C462.5,1201.09 480.92,1198.27 495,1196.1 C509.08,1193.93 524.79,1192.02 530.75,1191.2"/>
<path class="w" d="M555.4,1291.25 L576.4,1286 L577.75,1304.4 L556.75,1308.3Z"/>
<path class="w" d="M585.6,1278.1 L652.6,1234.2 L659.1,1235.5 L593.5,1282Z" style="fill:#eceef0;stroke:#a0a2a5"/>
<path class="w" d="M554.4,1286 L631.6,1234.2 L638.1,1235.5 L559.4,1292.6Z" style="fill:#eceef0;stroke:#a0a2a5"/>
<path class="w" d="M563.3,1257.1 L588.25,1244 L593.5,1249.25 L572.5,1262.4Z" style="fill:#eceef0;stroke:#a0a2a5"/>
<path class="wo" d="M572,1257 L586,1249.5"/>
<path class="w" d="M585.6,1234.8 L590.9,1234.8 L591.5,1249.25 L604,1251.9 L598.75,1257.1 L584.3,1250.6Z" style="fill:#dfe1e4;stroke:#a0a2a5"/>
<path class="w" d="M593.5,1233.5 L611.9,1221.7 L614.5,1228.25 L614.5,1238.75 L604,1246.6 L594.8,1244Z" style="fill:#e6e8ea;stroke:#a0a2a5"/>
<path class="wo" d="M594.8,1244 L614.5,1232"/>
<path class="w" d="M563.3,1198 C566.8,1195.58 574.94,1196.9 579.1,1198 C583.26,1199.1 588.03,1202.18 588.25,1204.6 C588.47,1207.02 583.02,1209 580.4,1212.5 C577.77,1216 573.38,1222.53 572.5,1225.6 C571.62,1228.67 577.28,1231.33 575.1,1230.9 C572.92,1230.47 562.23,1226.07 559.4,1223 C556.57,1219.93 557.45,1216.67 558.1,1212.5 C558.75,1208.33 559.8,1200.42 563.3,1198Z" style="fill:#e8eaec;stroke:#a0a2a5"/>
<path class="w" d="M575.1,1217.75 C576.2,1215.35 578.21,1212.51 580.4,1211.2 C582.59,1209.89 586.07,1208.15 588.25,1209.9 C590.43,1211.65 592.29,1218.64 593.5,1221.7 C594.71,1224.76 595.93,1226.28 595.5,1228.25 C595.07,1230.22 594.08,1233.06 590.9,1233.5 C587.72,1233.94 579.25,1232.22 576.4,1230.9 C573.55,1229.58 574.02,1227.79 573.8,1225.6 C573.58,1223.41 574,1220.15 575.1,1217.75Z" style="fill:#dfe1e4;stroke:#a0a2a5"/>
<path class="w" d="M591.5,1204.6 L598.75,1205.9 L611.9,1212.5 L610.6,1215.1 L594.8,1216.4 L591.5,1209.9Z" style="fill:#d9dce0;stroke:#a0a2a5"/>
<path class="wo" d="M561.3,1259.6 L573.2,1262.2 M561.3,1265.2 L573.2,1267.8"/>
<circle cx="561.3" cy="1262.4" r="2.9" fill="#f6f6f7" stroke="#9a9c9f" stroke-width="1.3"/>
<circle cx="573.2" cy="1265" r="2.9" fill="#f6f6f7" stroke="#9a9c9f" stroke-width="1.3"/>
<circle cx="617.8" cy="1261" r="2.7" fill="#f6f6f7" stroke="#9a9c9f" stroke-width="1.3"/>
<circle cx="590.9" cy="1282.7" r="2.9" fill="#f6f6f7" stroke="#9a9c9f" stroke-width="1.3"/>
<circle cx="565.9" cy="1286.7" r="1.3" fill="#85878a"/>
<circle cx="578.4" cy="1279.4" r="1.3" fill="#85878a"/>
<circle cx="587.6" cy="1274.2" r="1.3" fill="#85878a"/>
<circle cx="604" cy="1260.4" r="1.3" fill="#85878a"/>
<circle cx="617.8" cy="1249.25" r="1.3" fill="#85878a"/>
<circle cx="633.5" cy="1249.25" r="1.3" fill="#85878a"/>
<circle cx="626.3" cy="1254.5" r="1.3" fill="#85878a"/>
<circle cx="605.3" cy="1239.4" r="1.3" fill="#85878a"/>
<circle cx="613.8" cy="1234.8" r="1.3" fill="#85878a"/>
<circle cx="598.75" cy="1233.5" r="1.3" fill="#85878a"/>
<path class="g" d="M538.4,1198 C538.84,1193.19 544.07,1196.08 546.25,1196.75 C548.43,1197.42 550.08,1198.94 551.5,1202 C552.92,1205.06 554.15,1210.72 554.8,1215.1 C555.45,1219.47 555.95,1225.18 555.4,1228.25 C554.85,1231.32 552.8,1232.41 551.5,1233.5 C550.2,1234.59 548.92,1236.12 547.6,1234.8 C546.28,1233.48 545.13,1231.73 543.6,1225.6 C542.07,1219.47 537.96,1202.81 538.4,1198Z"/>
<path class="g" d="M617.1,1207.25 Q617.6,1204.6 619.75,1204.6 L651.25,1205.9 L709,1210.5 Q715.6,1211.5 715.6,1215.1 L714.25,1223 Q713,1231 703.75,1233.5 L619.75,1229.6 Q614.5,1229 614.5,1225.6 Z"/>
<path class="g" d="M531.8,1179.7 C535.52,1176.75 551.52,1177.43 559.4,1177.1 C567.28,1176.77 574.29,1177.92 579.1,1177.7 C583.91,1177.48 583.67,1176.3 588.25,1175.75 C592.83,1175.2 598.29,1174.84 606.6,1174.4 C614.91,1173.96 627.38,1172.98 638.1,1173.1 C648.82,1173.22 661.48,1173.78 670.9,1175.1 C680.32,1176.42 688.25,1178.48 694.6,1181 C700.95,1183.52 705.73,1187.13 709,1190.2 C712.27,1193.27 713.48,1196.33 714.25,1199.4 C715.02,1202.47 714.48,1206.63 713.6,1208.6 C712.73,1210.57 712.83,1211.65 709,1211.2 C705.17,1210.75 700.23,1207.43 690.6,1205.9 C680.98,1204.37 663.28,1203.08 651.25,1202 C639.22,1200.92 627.15,1200.05 618.4,1199.4 C609.65,1198.75 604.22,1198.54 598.75,1198.1 C593.28,1197.66 592.16,1197.3 585.6,1196.75 C579.04,1196.2 567.48,1195.12 559.4,1194.8 C551.32,1194.47 541.7,1197.32 537.1,1194.8 C532.5,1192.28 528.08,1182.65 531.8,1179.7Z"/>
<path class="go" d="M579.1,1181 C582.25,1181.83 594.52,1184.25 598,1186 C601.48,1187.75 596.67,1190 600,1191.5 C603.33,1193 609.5,1193.95 618,1195 C626.5,1196.05 639,1196.72 651,1197.8 C663,1198.88 680.5,1199.97 690,1201.5 C699.5,1203.03 705,1206.08 708,1207"/>
<path class="go" d="M581,1179.5 C584.17,1179.17 590.17,1177.95 600,1177.5 C609.83,1177.05 628,1176.55 640,1176.8 C652,1177.05 663,1177.55 672,1179 C681,1180.45 688,1183 694,1185.5 C700,1188 705.67,1192.58 708,1194" style="stroke:#a6a8ab;stroke-width:1.1"/>
<path class="w" d="M688,1190.2 C689.08,1188.88 704.83,1189.97 709,1191.5 C713.17,1193.03 712.57,1196.78 713,1199.4 C713.43,1202.03 713.35,1207.25 711.6,1207.25 C709.85,1207.25 706.43,1202.24 702.5,1199.4 C698.57,1196.56 686.92,1191.52 688,1190.2Z" style="fill:#eef0f2;stroke:#9a9c9f;stroke-width:1.2"/>
<path d="M360.5,1104.2 C357.13,1104.98 346.58,1106.42 340.3,1108.9 C334.02,1111.38 328.15,1115.22 322.8,1119.1 C317.45,1122.98 312.82,1127.6 308.2,1132.2 C303.58,1136.8 298.98,1142.08 295.1,1146.7 C291.22,1151.32 287.82,1155.52 284.9,1159.9 C281.98,1164.28 279.42,1169.48 277.6,1173 C275.78,1176.52 274.6,1179.67 274,1181" fill="none" stroke="#8b8d90" stroke-width="3.4"/>
<path d="M355.5,1097.2 L381.8,1096.5 L358.5,1109.6 Z" fill="#0a0a0a"/>
<path d="M267.4,1177.3 L280.5,1181 L266,1202.1 Z" fill="#0a0a0a"/>
<path d="M141.3,1025.7 L451,1271" stroke="#0a0a0a" stroke-width="2.2" fill="none"/>
<g opacity=".999"><text x="59.7" y="1002.8" textLength="139.3" lengthAdjust="spacingAndGlyphs" style="font-family:'Liberation Mono',monospace;font-size:17.9px;fill:#161616">Reclined Max 145°</text>
<text x="234.2" y="1391.7" textLength="314" lengthAdjust="spacingAndGlyphs" style="font-family:'Liberation Mono',monospace;font-size:17.6px;fill:#161616">Distance from wall for full recline 6”</text></g>
</g>
<g id="door">
<defs>
<filter id="bl8" x="-30%" y="-100%" width="160%" height="300%"><feGaussianBlur stdDeviation="6"/></filter>
<filter id="bl3" x="-30%" y="-100%" width="160%" height="300%"><feGaussianBlur stdDeviation="2.5"/></filter>
<filter id="bl5" x="-50%" y="-20%" width="200%" height="140%"><feGaussianBlur stdDeviation="4"/></filter>
<linearGradient id="dsh" x1="0" y1="0" x2="1" y2="0"><stop offset="0" stop-color="#222" stop-opacity=".85"/><stop offset=".55" stop-color="#555" stop-opacity=".35"/><stop offset="1" stop-color="#888" stop-opacity="0"/></linearGradient>
<linearGradient id="knob" x1="0" y1="0" x2="1" y2="1"><stop offset="0" stop-color="#6d6d6d"/><stop offset="1" stop-color="#e8e8e8"/></linearGradient>
</defs>
<rect x="1265.6" y="886.5" width="229.7" height="429" fill="#efeff1"/>
<rect x="1279.7" y="902.2" width="203" height="416" fill="#fff"/>
<path d="M1274.6,1315.5 L1274.6,896.3 L1486.6,896.3 L1486.6,1314" fill="none" stroke="#c3c4c8" stroke-width="2.3"/>
<path d="M1278.6,1315.5 L1278.6,901.2 L1483,901.2" fill="none" stroke="#e3e4e7" stroke-width="1.2"/>
<path d="M1475.6,902.25 L1425,969.4 L1425,1287.4 L1479.4,1315.6 Z" fill="#ebecf0"/>
<path d="M1425,969.4 L1425,1287.4" stroke="#d9dade" stroke-width="1" fill="none"/>
<rect x="1475.4" y="902" width="7" height="413.5" fill="#c6c7cb"/>
<rect x="1482.2" y="902" width="3.2" height="413" fill="#e2e3e6"/>
<path d="M1430.6,967.5 L1465.3,938.4 L1465.3,1136.5 L1431.5,1136.5 Z" fill="#e6e7ec" stroke="#d0d1d7" stroke-width="1.2"/>
<path d="M1433.6,970 L1462.6,945.5 L1462.6,1133.5 L1434.4,1133.5 Z" fill="#edeef2" stroke="#dcdde2" stroke-width="1"/>
<path d="M1431.5,1150 L1465.3,1150 L1465.3,1296 L1431.5,1279 Z" fill="#e6e7ec" stroke="#d0d1d7" stroke-width="1.2"/>
<rect x="1481" y="948.6" width="3.2" height="4.8" fill="#111"/>
<rect x="1481" y="1264.5" width="3.2" height="4.8" fill="#111"/>
<ellipse cx="1431" cy="1124.5" rx="4.2" ry="3" fill="url(#knob)"/>
<circle cx="1428.6" cy="1124" r="2.6" fill="#8a8a8a"/>
<ellipse cx="1372" cy="1331" rx="112" ry="8.5" fill="#111" opacity=".5" filter="url(#bl8)"/>
<ellipse cx="1262" cy="1317.5" rx="17" ry="2.3" fill="#222" opacity=".8" filter="url(#bl3)"/>
<path d="M1450,1168 L1484,1184 L1484,1318 L1450,1324 Z" fill="url(#dsh)" filter="url(#bl5)"/>
<ellipse cx="1302" cy="1312" rx="13" ry="17" fill="#333" opacity=".28" filter="url(#bl5)"/>
<path d="M1301.25,1197.5 C1302.66,1193.12 1305,1191.72 1308.75,1190 C1312.5,1188.28 1320.04,1187.2 1323.75,1187.2 C1327.46,1187.2 1329.12,1182.87 1331,1190 C1332.88,1197.13 1333.5,1213.33 1335,1230 C1336.5,1246.67 1338.92,1274 1340,1290 C1341.08,1306 1343,1319.67 1341.5,1326 C1340,1332.33 1334.25,1327.92 1331,1328 C1327.75,1328.08 1324.77,1328.57 1322,1326.5 C1319.23,1324.43 1316.61,1322.1 1314.4,1315.6 C1312.19,1309.1 1310.65,1298.43 1308.75,1287.5 C1306.85,1276.57 1304.41,1261.88 1303,1250 C1301.59,1238.12 1300.59,1225 1300.3,1216.25 C1300.01,1207.5 1299.84,1201.88 1301.25,1197.5Z" fill="#dcdde3" stroke="#0c0c0c" stroke-width="1.3" stroke-linejoin="round"/>
<path d="M1304.5,1202 C1305.83,1200.62 1309.29,1195.43 1312.5,1193.75 C1315.71,1192.07 1321.88,1192.21 1323.75,1191.9" fill="none" stroke="#0c0c0c" stroke-width="1"/>
<path d="M1304.5,1202 C1304.5,1207.5 1303.58,1222 1304.5,1235 C1305.42,1248 1308.08,1267.17 1310,1280 C1311.92,1292.83 1314.17,1304.25 1316,1312 C1317.83,1319.75 1320.17,1324.08 1321,1326.5" fill="none" stroke="#0c0c0c" stroke-width="1"/>
<path d="M1312.5,1205 C1312.79,1199.12 1315.92,1198.17 1318,1196 C1320.08,1193.83 1323.42,1189.25 1325,1192 C1326.58,1194.75 1327.23,1202.21 1327.5,1212.5 C1327.77,1222.79 1327.53,1247.18 1326.6,1253.75 C1325.67,1260.32 1323.62,1255.65 1321.9,1251.9 C1320.18,1248.15 1317.82,1239.07 1316.25,1231.25 C1314.68,1223.43 1312.21,1210.88 1312.5,1205Z" fill="#fff" stroke="#0c0c0c" stroke-width="1"/>
<ellipse cx="1303.6" cy="1225.6" rx="1.6" ry="9.5" fill="#111"/>
<path d="M1327.5,1175 C1328.9,1171.27 1329.38,1167.63 1335,1165.6 C1340.62,1163.57 1350.42,1163.4 1361.25,1162.8 C1372.08,1162.2 1387.5,1162.22 1400,1162 C1412.5,1161.78 1428.02,1160.9 1436.25,1161.5 C1444.48,1162.1 1446.61,1163.35 1449.4,1165.6 C1452.19,1167.85 1452.15,1167.27 1453,1175 C1453.85,1182.73 1454,1199.5 1454.5,1212 C1455,1224.5 1455.45,1233.33 1456,1250 C1456.55,1266.67 1458.3,1300.12 1457.8,1312 C1457.3,1323.88 1462.63,1319.37 1453,1321.25 C1443.37,1323.13 1417.17,1322.67 1400,1323.3 C1382.83,1323.92 1359.9,1325.05 1350,1325 C1340.1,1324.95 1343.1,1329.25 1340.6,1323 C1338.1,1316.75 1336.6,1299.67 1335,1287.5 C1333.4,1275.33 1332.25,1262.5 1331,1250 C1329.75,1237.5 1328.23,1222.83 1327.5,1212.5 C1326.77,1202.17 1326.6,1194.25 1326.6,1188 C1326.6,1181.75 1326.1,1178.73 1327.5,1175Z" fill="#dcdde3" stroke="#0c0c0c" stroke-width="1.4" stroke-linejoin="round"/>
<path d="M1341.5,1323 C1340.75,1317.5 1338.42,1302.17 1337,1290 C1335.58,1277.83 1333.96,1263 1333,1250 C1332.04,1237 1331.42,1222.67 1331.25,1212 C1331.08,1201.33 1331.08,1192.5 1332,1186 C1332.92,1179.5 1333.48,1176.08 1336.8,1173 C1340.12,1169.92 1345.53,1168.75 1351.9,1167.5 C1358.27,1166.25 1371.15,1165.83 1375,1165.5" fill="none" stroke="#0c0c0c" stroke-width="1"/>
<ellipse cx="1329.6" cy="1216.3" rx="1.7" ry="11" fill="#111"/>
<g opacity=".999">
<text x="1381.4" y="961" text-anchor="middle" textLength="162" lengthAdjust="spacingAndGlyphs" style="font-family:'Liberation Sans',sans-serif;font-size:16.7px;fill:#232323">Minimum Doorframe</text>
<text x="1381.4" y="982.5" text-anchor="middle" textLength="44" lengthAdjust="spacingAndGlyphs" style="font-family:'Liberation Sans',sans-serif;font-size:16.7px;fill:#232323">Width</text>
<text x="1381.75" y="1015.3" text-anchor="middle" style="font-family:'Liberation Sans',sans-serif;font-size:22px;font-weight:bold;fill:#333">26”</text>
<text x="1269" y="1373" textLength="208.7" lengthAdjust="spacingAndGlyphs" style="font-family:'Liberation Sans',sans-serif;font-size:18px;fill:#2d2d2d"><tspan font-size="12" dy="-3">*</tspan><tspan dy="3">Rotate Chair 90° to fit</tspan></text>
<text x="1269" y="1399" textLength="218.7" lengthAdjust="spacingAndGlyphs" style="font-family:'Liberation Sans',sans-serif;font-size:18px;fill:#2d2d2d">through the door before</text>
<text x="1269" y="1424" textLength="172" lengthAdjust="spacingAndGlyphs" style="font-family:'Liberation Sans',sans-serif;font-size:18px;fill:#2d2d2d">attaching backrest</text>
</g>
</g>
</svg>
</body></html>
